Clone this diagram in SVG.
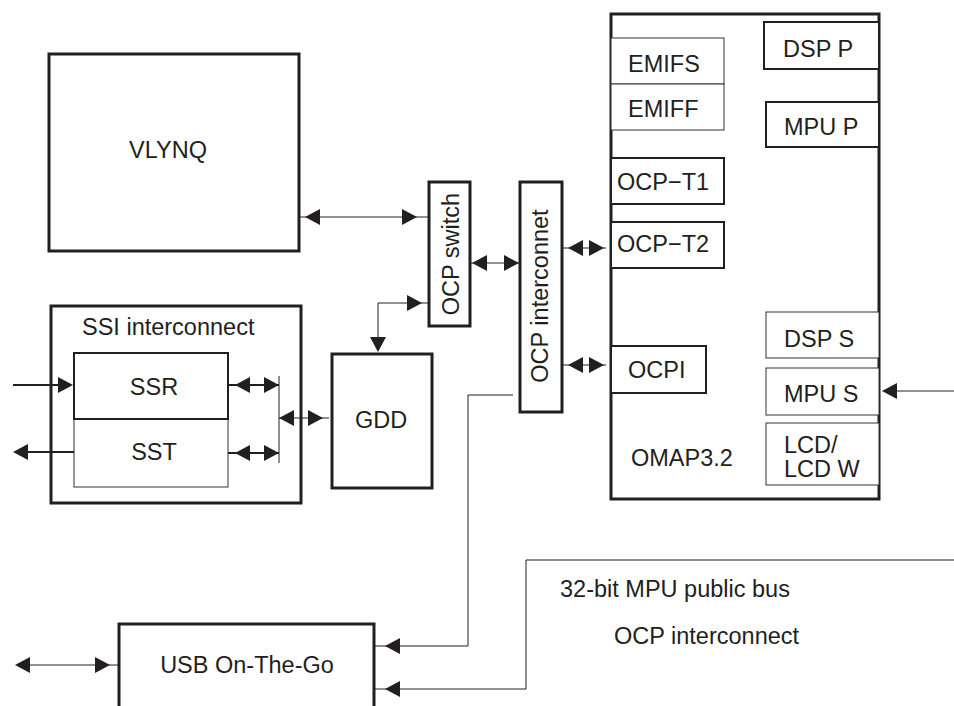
<svg xmlns="http://www.w3.org/2000/svg" xmlns:xlink="http://www.w3.org/1999/xlink" width="954" height="706" viewBox="0 0 954 706">
<style>
.thick{fill:#fff;stroke:#231f20;stroke-width:3}
.mid{fill:#fff;stroke:#231f20;stroke-width:2}
.thin{fill:#fff;stroke:#333;stroke-width:1}
.ln{fill:none;stroke:#231f20;stroke-width:1}
.ln2{fill:none;stroke:#231f20;stroke-width:2}
.ah{fill:#231f20;stroke:none}
text{font-family:"Liberation Sans",Arial,sans-serif;font-size:23.5px;fill:#231f20}
.c{text-anchor:middle}
</style>
<defs>
<path id="ah" class="ah" d="M0,0 L15,-8 L15,8 Z"/>
</defs>
<rect width="954" height="706" fill="#fff"/>

<g id="vlynq"><rect class="thick" x="49" y="54" width="250" height="197"/><text x="129" y="158">VLYNQ</text></g>
<g id="ocp-switch"><rect class="thick" x="429" y="182" width="41" height="144"/><text class="c" transform="translate(459,254) rotate(-90)">OCP switch</text></g>
<g id="ocp-interconnet"><rect class="thick" x="520" y="182" width="42" height="230"/><text class="c" transform="translate(548,296) rotate(-90)">OCP interconnet</text></g>

<g id="omap">
<rect class="thick" x="611" y="14" width="268" height="485"/>
<text x="631" y="466">OMAP3.2</text>
<g id="emifs"><rect class="thin" x="611" y="38" width="113" height="46"/><text x="628" y="72">EMIFS</text></g>
<g id="emiff"><rect class="thin" x="611" y="84" width="113" height="46"/><text x="628" y="117">EMIFF</text></g>
<g id="ocp-t1"><rect class="mid" x="611" y="158" width="113" height="46"/><text x="617" y="190">OCP−T1</text></g>
<g id="ocp-t2"><rect class="mid" x="611" y="222" width="113" height="46"/><text x="617" y="252">OCP−T2</text></g>
<g id="ocpi"><rect class="mid" x="611" y="346" width="95" height="47"/><text x="628" y="378">OCPI</text></g>
<g id="dsp-p"><rect class="mid" x="764" y="22" width="115" height="47"/><text x="783" y="57">DSP P</text></g>
<g id="mpu-p"><rect class="mid" x="766" y="102" width="113" height="45"/><text x="784" y="135">MPU P</text></g>
<g id="dsp-s"><rect class="thin" x="766" y="312" width="113" height="46"/><text x="784" y="347">DSP S</text></g>
<g id="mpu-s"><rect class="thin" x="766" y="368" width="113" height="47"/><text x="784" y="402">MPU S</text></g>
<g id="lcd"><rect class="thin" x="766" y="423" width="113" height="62"/><text x="784" y="453">LCD/</text><text x="784" y="477">LCD W</text></g>
</g>

<g id="ssi">
<rect class="thick" x="51" y="306" width="250" height="197"/>
<text x="82" y="335">SSI interconnect</text>
<g id="sst"><rect class="thin" x="74" y="419" width="154" height="68"/><text class="c" x="154" y="460">SST</text></g>
<g id="ssr"><rect class="mid" x="74" y="353" width="154" height="66"/><text class="c" x="154" y="395">SSR</text></g>
</g>
<g id="gdd"><rect class="thick" x="332" y="354" width="100" height="134"/><text class="c" x="381" y="428">GDD</text></g>
<g id="usb"><rect class="thick" x="119" y="624" width="255" height="100"/><text class="c" x="247" y="673">USB On-The-Go</text></g>

<g id="labels">
<text x="560" y="597">32-bit MPU public bus</text>
<text x="614" y="644">OCP interconnect</text>
</g>

<g id="connectors">
<line class="ln" x1="299" y1="217" x2="429" y2="217"/>
<use xlink:href="#ah" transform="translate(305,217)"/>
<use xlink:href="#ah" transform="translate(417,217) scale(-1,1)"/>

<line class="ln" x1="470" y1="263" x2="520" y2="263"/>
<use xlink:href="#ah" transform="translate(472,263)"/>
<use xlink:href="#ah" transform="translate(519,263) scale(-1,1)"/>

<polyline class="ln" points="429,303 378,303 378,345"/>
<use xlink:href="#ah" transform="translate(422,303) scale(-1,1)"/>
<use xlink:href="#ah" transform="translate(378,352) rotate(-90)"/>

<line class="ln" x1="562" y1="248" x2="606" y2="248"/>
<use xlink:href="#ah" transform="translate(568,248)"/>
<use xlink:href="#ah" transform="translate(604,248) scale(-1,1)"/>

<line class="ln" x1="562" y1="365" x2="606" y2="365"/>
<use xlink:href="#ah" transform="translate(568,365)"/>
<use xlink:href="#ah" transform="translate(604,365) scale(-1,1)"/>

<line class="ln" x1="954" y1="391" x2="890" y2="391"/>
<use xlink:href="#ah" transform="translate(882,391)"/>

<line class="ln2" x1="13" y1="385" x2="66" y2="385"/>
<use xlink:href="#ah" transform="translate(73,385) scale(-1,1)"/>

<line class="ln2" x1="20" y1="452" x2="74" y2="452"/>
<use xlink:href="#ah" transform="translate(13,452)"/>

<line class="ln2" x1="228" y1="385" x2="279" y2="385"/>
<use xlink:href="#ah" transform="translate(235,385)"/>
<use xlink:href="#ah" transform="translate(279,385) scale(-1,1)"/>

<line class="ln2" x1="228" y1="453" x2="279" y2="453"/>
<use xlink:href="#ah" transform="translate(235,453)"/>
<use xlink:href="#ah" transform="translate(279,453) scale(-1,1)"/>

<line class="ln" x1="279" y1="376" x2="279" y2="463"/>

<line class="ln" x1="279" y1="418" x2="329" y2="418"/>
<use xlink:href="#ah" transform="translate(279,418)"/>
<use xlink:href="#ah" transform="translate(323,418) scale(-1,1)"/>

<polyline class="ln" points="513,395 468,395 468,646 374,646"/>
<use xlink:href="#ah" transform="translate(385,646)"/>

<polyline class="ln" points="954,560 526,560 526,689 374,689"/>
<use xlink:href="#ah" transform="translate(385,689)"/>

<line class="ln" x1="20" y1="665" x2="119" y2="665"/>
<use xlink:href="#ah" transform="translate(15,665)"/>
<use xlink:href="#ah" transform="translate(110,665) scale(-1,1)"/>
</g>
</svg>
